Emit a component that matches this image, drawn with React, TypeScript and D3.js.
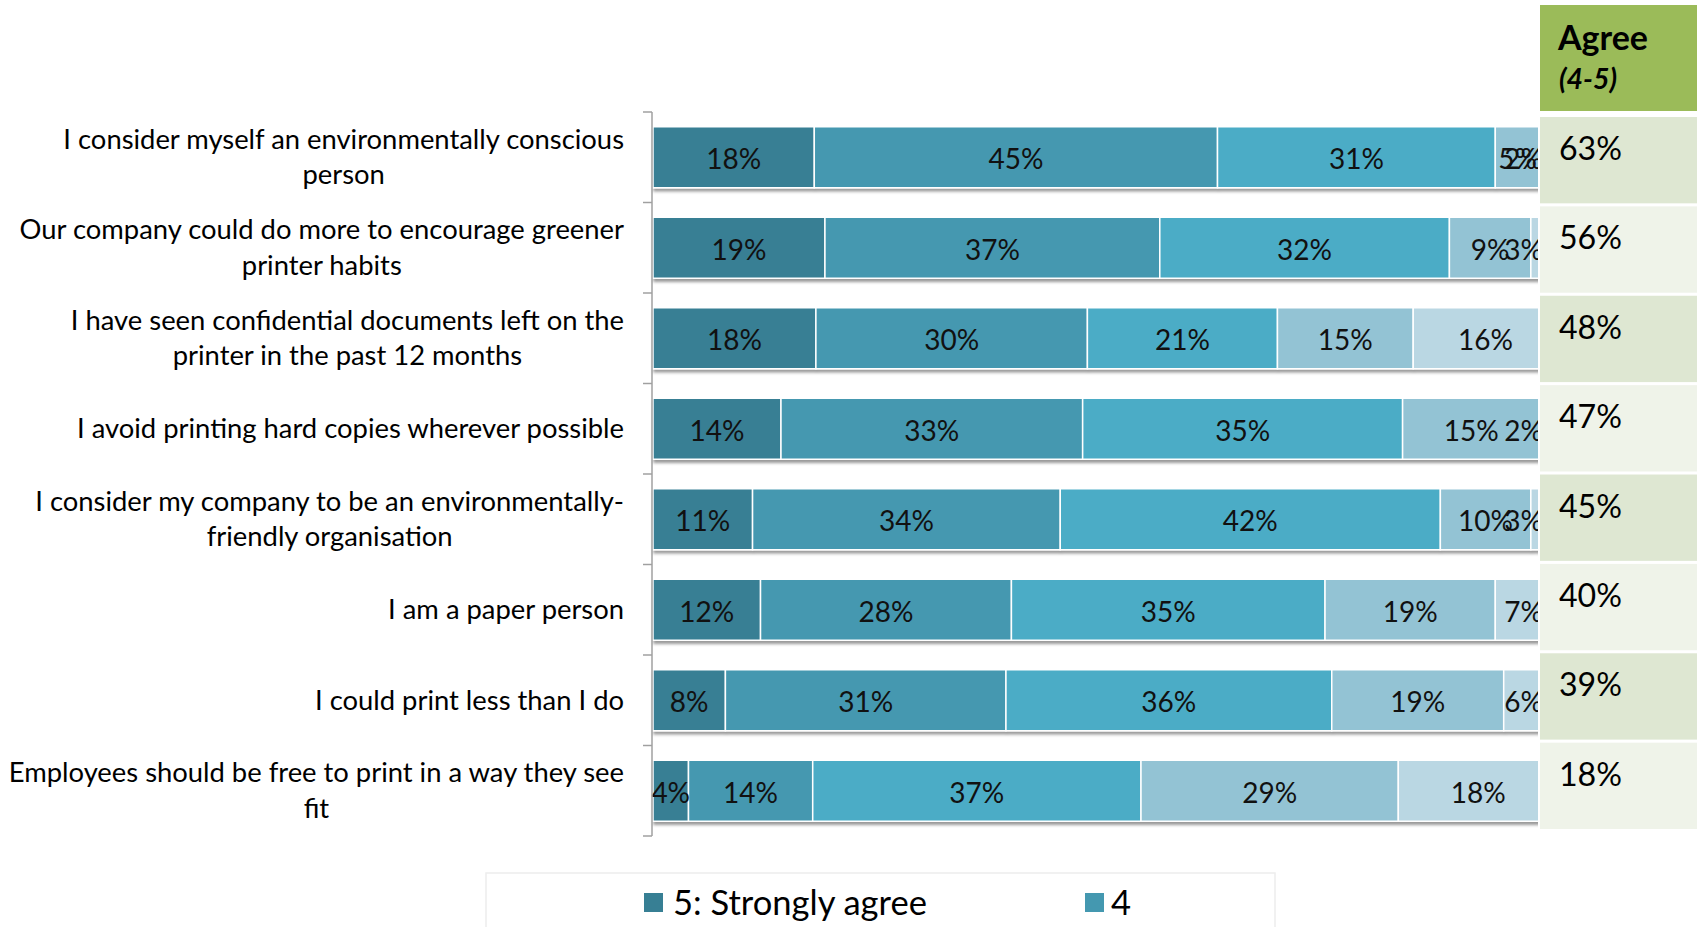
import React, { useEffect, useRef } from 'react';
import * as d3 from 'd3';

const categories: string[][] = [
  ['I consider myself an environmentally conscious', 'person'],
  ['Our company could do more to encourage greener', 'printer habits'],
  ['I have seen confidential documents left on the', 'printer in the past 12 months'],
  ['I avoid printing hard copies wherever possible'],
  ['I consider my company to be an environmentally-', 'friendly organisation'],
  ['I am a paper person'],
  ['I could print less than I do'],
  ['Employees should be free to print in a way they see', 'fit'],
];
const seriesNames = ['5: Strongly agree', '4', '3', '2', '1: Strongly disagree'];
const stronglyAgree = [18, 19, 18, 14, 11, 12, 8, 4];
const agree4 = [45, 37, 30, 33, 34, 28, 31, 14];
const neutral3 = [31, 32, 21, 35, 42, 35, 36, 37];
const disagree2 = [5, 9, 15, 15, 10, 19, 19, 29];
const stronglyDisagree = [2, 3, 16, 2, 3, 7, 6, 18];
const agreeHeader = ['Agree', '(4-5)'];
const agreeTotals = [63, 56, 48, 47, 45, 40, 39, 18];

const seriesColors = ['#377F94', '#4498B0', '#4BACC6', '#93C3D4', '#BAD7E3'];
const FONT = 'Lato, "Open Sans", sans-serif';
const W = 1697;
const H = 927;

export default function App() {
  const ref = useRef<SVGSVGElement>(null);

  useEffect(() => {
    document.body.style.margin = '0';
    const svg = d3.select(ref.current as SVGSVGElement);
    svg.selectAll('*').remove();

    const fit = (text: string, target: number, weight = 'normal', style = 'normal') => {
      const t = svg
        .append('text')
        .attr('font-family', FONT)
        .attr('font-size', 100)
        .attr('font-weight', weight)
        .attr('font-style', style)
        .text(text);
      const w = (t.node() as SVGTextElement).getComputedTextLength();
      t.remove();
      return (100 * target) / w;
    };

    const catFs = fit('I consider myself an environmentally conscious', 561);
    const barFs = fit('45%', 55);
    const panelFs = fit('63%', 63);
    const headFs = fit('Agree', 90, 'bold');
    const subFs = fit('(4-5)', 58, 'bold', 'italic');
    const legFs = fit('5: Strongly agree', 254);

    const defs = svg.append('defs');
    const f = defs
      .append('filter')
      .attr('id', 'shadow')
      .attr('x', '-5%')
      .attr('y', '-20%')
      .attr('width', '110%')
      .attr('height', '150%');
    f.append('feDropShadow')
      .attr('dx', 1)
      .attr('dy', 3)
      .attr('stdDeviation', 1.6)
      .attr('flood-color', '#000')
      .attr('flood-opacity', 0.4);

    const rows = categories.map((c, i) => ({
      s5: stronglyAgree[i],
      s4: agree4[i],
      s3: neutral3[i],
      s2: disagree2[i],
      s1: stronglyDisagree[i],
    }));
    const keys = ['s5', 's4', 's3', 's2', 's1'];
    const stacked = d3.stack<any>().keys(keys).offset(d3.stackOffsetExpand)(rows);
    const rawSeries = [stronglyAgree, agree4, neutral3, disagree2, stronglyDisagree];

    const x = d3.scaleLinear().domain([0, 1]).range([653, 1558]);
    const y = d3
      .scaleBand<number>()
      .domain(d3.range(categories.length))
      .range([112, 836])
      .paddingInner(0.326)
      .paddingOuter(0.163);
    const step = y.step();
    const bandTop = 112;

    // bars
    const barG = svg.append('g');
    categories.forEach((_, i) => {
      const g = barG.append('g').attr('filter', 'url(#shadow)');
      stacked.forEach((s, k) => {
        const d = s[i];
        g.append('rect')
          .attr('x', x(d[0]))
          .attr('y', y(i) as number)
          .attr('width', Math.max(0, x(d[1]) - x(d[0])))
          .attr('height', y.bandwidth())
          .attr('fill', seriesColors[k])
          .attr('stroke', '#fff')
          .attr('stroke-width', 1.5);
      });
    });

    // bar labels
    const labG = svg.append('g').attr('font-family', FONT).attr('font-size', barFs).attr('fill', '#111');
    categories.forEach((_, i) => {
      stacked.forEach((s, k) => {
        const d = s[i];
        const txt = `${rawSeries[k][i]}%`;
        const t = labG
          .append('text')
          .attr('text-anchor', 'middle')
          .attr('y', (y(i) as number) + y.bandwidth() / 2 + barFs * 0.36 + 2)
          .text(txt);
        const tw = (t.node() as SVGTextElement).getComputedTextLength();
        let cx = (x(d[0]) + x(d[1])) / 2;
        const maxRight = 1543;
        if (cx + tw / 2 > maxRight) cx = maxRight - tw / 2;
        t.attr('x', cx);
      });
    });

    // axis
    const axG = svg.append('g').attr('stroke', '#A0A0A0').attr('stroke-width', 1.5);
    axG.append('line').attr('x1', 652).attr('x2', 652).attr('y1', bandTop).attr('y2', bandTop + step * categories.length);
    d3.range(categories.length + 1).forEach((k) => {
      axG
        .append('line')
        .attr('x1', 643)
        .attr('x2', 652)
        .attr('y1', bandTop + k * step)
        .attr('y2', bandTop + k * step);
    });

    // category labels
    const catG = svg.append('g').attr('font-family', FONT).attr('font-size', catFs).attr('fill', '#000');
    categories.forEach((lines, i) => {
      const c = (y(i) as number) + y.bandwidth() / 2;
      const lh = 35.7;
      const texts = lines.map((ln, j) =>
        catG
          .append('text')
          .attr('text-anchor', 'middle')
          .attr('y', lines.length === 1 ? c + 9.5 : c - 8.5 + j * lh)
          .text(ln)
      );
      const maxW = d3.max(texts, (t) => (t.node() as SVGTextElement).getComputedTextLength()) || 0;
      texts.forEach((t) => t.attr('x', 624 - maxW / 2));
    });

    // right panel
    const panel = svg.append('g');
    panel.append('rect').attr('x', 1538).attr('y', 0).attr('width', W - 1538).attr('height', 860).attr('fill', '#fff');
    panel.append('rect').attr('x', 1540).attr('y', 5).attr('width', W - 1540).attr('height', 106).attr('fill', '#9BBB59');
    panel
      .append('text')
      .attr('x', 1558)
      .attr('y', 50)
      .attr('font-family', FONT)
      .attr('font-weight', 'bold')
      .attr('font-size', headFs)
      .attr('fill', '#000')
      .text(agreeHeader[0]);
    panel
      .append('text')
      .attr('x', 1559)
      .attr('y', 89)
      .attr('font-family', FONT)
      .attr('font-weight', 'bold')
      .attr('font-style', 'italic')
      .attr('font-size', subFs)
      .attr('fill', '#000')
      .text(agreeHeader[1]);

    const ty = d3
      .scaleBand<number>()
      .domain(d3.range(agreeTotals.length))
      .range([117, 829])
      .paddingInner(0.034)
      .paddingOuter(0);
    agreeTotals.forEach((v, i) => {
      panel
        .append('rect')
        .attr('x', 1540)
        .attr('y', ty(i) as number)
        .attr('width', W - 1540)
        .attr('height', ty.bandwidth())
        .attr('fill', i % 2 === 0 ? '#DEE7D2' : '#EFF3E9');
      panel
        .append('text')
        .attr('x', 1559)
        .attr('y', (ty(i) as number) + 43)
        .attr('font-family', FONT)
        .attr('font-size', panelFs)
        .attr('fill', '#000')
        .text(`${v}%`);
    });

    // legend
    const leg = svg.append('g');
    leg
      .append('rect')
      .attr('x', 486)
      .attr('y', 873)
      .attr('width', 789)
      .attr('height', 80)
      .attr('fill', '#fff')
      .attr('stroke', '#EDEDED')
      .attr('stroke-width', 1.5);
    const legendX = [644, 1085];
    [0, 1].forEach((k) => {
      leg
        .append('rect')
        .attr('x', legendX[k])
        .attr('y', 893)
        .attr('width', 19)
        .attr('height', 19)
        .attr('fill', seriesColors[k]);
      leg
        .append('text')
        .attr('x', legendX[k] + (k === 0 ? 29 : 26))
        .attr('y', 915)
        .attr('font-family', FONT)
        .attr('font-size', legFs)
        .attr('fill', '#000')
        .text(seriesNames[k]);
    });
  }, []);

  return (
    <svg
      ref={ref}
      width={W}
      height={H}
      style={{ position: 'absolute', left: 0, top: 0, background: '#fff', display: 'block' }}
    />
  );
}
